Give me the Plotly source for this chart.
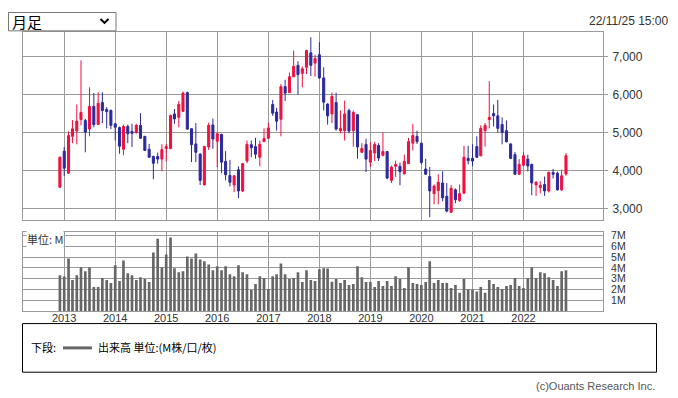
import plotly.graph_objects as go
import pandas as pd

# The page body adds an 8px margin, so the figure is sized to fill the rest
PAGE_W, PAGE_H = 678, 398
OFF = 8
W, H = PAGE_W - OFF, PAGE_H - OFF

months = pd.date_range("2012-12-01", periods=120, freq="MS")

opens = [3560,
 4510,3930,4900,5040,5340,5320,5090,5690,5210,5790,5610,5580,
 5230,5130,4560,5160,5030,5000,5190,4900,4560,4370,4370,4300,
 4580,4580,5490,5400,5560,6050,5100,4700,4430,3620,4620,5200,
 4770,4950,4240,3870,3620,4020,3460,4250,4680,4630,4350,4760,
 4850,5740,5540,5350,6210,6050,6470,6770,6560,6720,7100,6830,
 7050,6440,5750,5490,5790,5050,5050,5580,5050,5470,4480,4690,
 4220,4460,4660,4400,4500,3740,4110,4110,3910,4180,4720,4900,
 4720,4040,3840,3390,3470,3670,3320,2900,3490,3210,3400,4320,
 4320,4630,4390,5050,5340,5500,5440,5210,5050,4700,4420,3900,
 4140,4300,4160,3620,3550,3630,3460,3950,3930,3490,3910]
highs = [4370,
 4620,5030,5330,5740,6900,5360,6190,6040,6060,6060,5670,5610,
 5250,5160,5210,5210,5230,5230,5510,4910,4700,4390,4470,4690,
 4700,5470,5620,5830,6080,6080,5110,5250,4460,4650,5260,5370,
 5000,4970,4510,4280,3880,4110,4200,4790,4790,4860,4790,5110,
 5260,5860,5650,6280,6390,6580,7160,6880,6740,7180,7510,7050,
 7380,6720,5770,6050,6050,5580,5840,5630,5580,5490,4720,4840,
 4740,4760,4720,5000,4510,4130,4260,4210,4420,4860,5230,5050,
 4740,4310,4090,3630,3900,3980,3670,3620,3530,3630,4650,4650,
 4690,4900,5190,5250,6350,5740,5860,5400,5320,4720,4490,4300,
 4490,4420,4180,3720,3720,3840,3970,4040,3970,4020,4460]
lows = [3540,
 3850,3910,4720,4690,5190,4480,4900,5140,5200,5250,5110,5090,
 4790,4440,4400,4720,4620,4970,4830,4530,4330,3770,4180,3980,
 4240,4560,5230,5140,5540,5070,4220,4220,3620,3610,4540,4570,
 4090,3930,3740,3580,3430,3270,3430,4190,4350,4310,4110,4750,
 4830,5440,5050,4900,5830,6040,6460,6000,6190,6540,6490,6470,
 6410,5580,5210,5250,5050,4980,4790,4980,4630,4310,4460,3960,
 4090,4250,4250,4370,3770,3670,3830,3610,3900,4180,4530,4700,
 4160,3900,2770,3110,3110,3190,2900,2880,3140,3170,3390,4160,
 4110,4330,4370,4630,5110,5160,5000,4690,4740,4300,3900,3890,
 4110,3980,3350,3330,3400,3330,3420,3790,3470,3460,3860]
closes = [4350,
 4060,4920,5100,5300,5530,5010,5690,5210,5770,5580,5550,5190,
 5140,4640,5160,4970,4980,5190,4850,4530,4350,4190,4300,4550,
 4630,5450,5360,5740,6040,5090,4680,4480,3740,4630,5190,4830,
 4970,4220,3890,3690,3860,3460,4180,4690,4600,4430,4690,4840,
 5120,5510,5300,6210,6040,6470,6740,6530,6680,7160,6770,6950,
 6440,5800,5440,5950,5090,5110,5490,5040,5530,4620,4580,4300,
 4530,4690,4330,4500,3800,4090,4160,3970,4240,4760,4920,4760,
 4210,3900,3460,3590,3690,3280,2930,3530,3230,3390,4350,4260,
 4250,4350,5110,5190,5400,5440,5110,5000,4760,4320,3900,4160,
 4390,4120,3670,3690,3610,3460,3950,3900,3490,3860,4390]
volumes_m = [3.33,
 3.21,4.88,2.88,3.33,4.06,3.70,4.06,2.24,2.24,3.06,2.88,2.61,
 4.24,2.79,4.70,3.52,3.33,2.88,3.15,2.97,2.70,5.42,6.70,4.06,
 5.24,6.82,3.97,3.61,3.70,5.06,4.88,5.33,4.79,4.61,4.33,3.79,
 4.15,3.79,4.15,3.42,3.24,4.24,3.61,3.42,1.97,2.52,3.24,3.06,
 2.06,3.24,3.42,4.42,3.42,2.97,3.06,3.61,2.70,3.79,2.88,2.79,
 3.88,3.97,3.94,2.73,2.97,2.61,2.88,2.42,2.52,4.15,3.15,2.70,
 2.70,2.24,2.79,2.33,2.79,2.33,3.24,2.97,2.15,4.06,2.61,2.52,
 2.42,2.70,4.61,2.61,2.88,2.61,2.61,2.15,2.42,1.70,2.97,2.03,
 2.00,1.82,2.24,1.70,2.88,2.52,2.24,2.06,2.33,2.42,3.06,2.33,
 2.15,3.06,4.06,3.06,3.61,3.52,3.15,2.88,2.33,3.70,3.79]

year_ticks = ["2013-01-01", "2014-01-01", "2015-01-01", "2016-01-01", "2017-01-01",
              "2018-01-01", "2019-01-01", "2020-01-01", "2021-01-01", "2022-01-01"]
year_labels = ["2013", "2014", "2015", "2016", "2017", "2018", "2019", "2020", "2021", "2022"]
price_ticks = [3000, 4000, 5000, 6000, 7000]
vol_ticks = [1, 2, 3, 4, 5, 6, 7]
vol_labels = ["1M", "2M", "3M", "4M", "5M", "6M", "7M"]

UP = "#F0103F"
DOWN = "#2B2A9A"
GRID = "#9A9A9A"
FONT = "Liberation Sans, Arial, sans-serif"
JP = "Noto Sans CJK JP, sans-serif"


def px(x):
    return (x - OFF) / W


def py(y):
    return 1 - (y - OFF) / H


fig = go.Figure()
fig.add_trace(go.Candlestick(
    x=months, open=opens, high=highs, low=lows, close=closes,
    increasing=dict(line=dict(color=UP, width=1), fillcolor=UP),
    decreasing=dict(line=dict(color=DOWN, width=1), fillcolor=DOWN),
    xaxis="x", yaxis="y", showlegend=False, hoverinfo="skip",
))
fig.add_trace(go.Bar(
    x=months, y=volumes_m, marker=dict(color="#666666", line=dict(width=0)),
    xaxis="x2", yaxis="y2", showlegend=False, hoverinfo="skip",
))

xrange = ["2012-03-12", "2023-07-24"]
xdom = [px(23), px(603)]
common_x = dict(type="date", range=xrange, domain=xdom, tickvals=year_ticks,
                showgrid=True, gridcolor=GRID, gridwidth=1, zeroline=False,
                showline=True, linecolor=GRID, linewidth=1, mirror=True,
                fixedrange=True)

fig.update_layout(
    width=W, height=H, margin=dict(l=0, r=0, t=0, b=0),
    paper_bgcolor="white", plot_bgcolor="white",
    showlegend=False, boxgap=0.25, bargap=0.32,
    xaxis=dict(**common_x, anchor="y", showticklabels=False,
               rangeslider=dict(visible=False)),
    xaxis2=dict(**common_x, anchor="y2", ticktext=year_labels,
                tickfont=dict(family=FONT, size=11, color="#333333"),
                ticks="", ticklabelstandoff=-3),
    yaxis=dict(domain=[py(219), py(29.5)], range=[2686, 7640], side="right",
               tickvals=price_ticks, tickformat=",",
               tickfont=dict(family=FONT, size=12, color="#333333"),
               showgrid=True, gridcolor=GRID, zeroline=False,
               showline=True, linecolor=GRID, mirror=True,
               ticks="outside", ticklen=4, tickcolor=GRID, ticklabelstandoff=2,
               anchor="x", fixedrange=True),
    yaxis2=dict(domain=[py(310.5), py(231)], range=[0, 7.3], side="right",
                tickvals=vol_ticks, ticktext=vol_labels,
                tickfont=dict(family=FONT, size=10.5, color="#333333"),
                showgrid=True, gridcolor=GRID, zeroline=False,
                showline=True, linecolor=GRID, mirror=True,
                ticks="", ticklabelstandoff=5,
                anchor="x2", fixedrange=True),
)

shapes = [
    dict(type="rect", xref="paper", yref="paper", x0=px(8.5), x1=px(116), y0=py(28), y1=py(9.5),
         line=dict(color="#767676", width=1)),
    dict(type="path", xref="paper", yref="paper",
         path=f"M {px(100.5)} {py(16)} L {px(104.5)} {py(20)} L {px(108.5)} {py(16)}",
         line=dict(color="#000000", width=2)),
    dict(type="rect", xref="paper", yref="paper", x0=px(22.5), x1=px(656.5), y0=py(372), y1=py(323),
         line=dict(color="#000000", width=1)),
    dict(type="line", xref="paper", yref="paper", x0=px(63), x1=px(92), y0=py(347.5), y1=py(347.5),
         line=dict(color="#666666", width=3)),
]
fig.update_layout(shapes=shapes)

annotations = [
    dict(text="月足", x=px(10), y=py(18.5), xanchor="left", yanchor="middle",
         font=dict(family=JP, size=15, color="#000000")),
    dict(text="22/11/25 15:00", x=px(671), y=py(18), xanchor="right", yanchor="middle",
         font=dict(family=FONT, size=12, color="#333333")),
    dict(text="単位: M", x=px(26), y=py(238), xanchor="left", yanchor="middle",
         bgcolor="white", borderpad=0,
         font=dict(family=JP, size=11, color="#333333")),
    dict(text="下段:", x=px(29), y=py(347), xanchor="left", yanchor="middle",
         font=dict(family=JP, size=11, color="#000000")),
    dict(text="出来高 単位:(M株/口/枚)", x=px(96), y=py(347), xanchor="left", yanchor="middle",
         font=dict(family=JP, size=11, color="#000000")),
    dict(text="(c)Ouants Research Inc.", x=px(657), y=py(386), xanchor="right", yanchor="middle",
         font=dict(family=FONT, size=11, color="#555555")),
]
for a in annotations:
    a.update(xref="paper", yref="paper", showarrow=False)
fig.update_layout(annotations=annotations)

fig.write_html("out.html")
